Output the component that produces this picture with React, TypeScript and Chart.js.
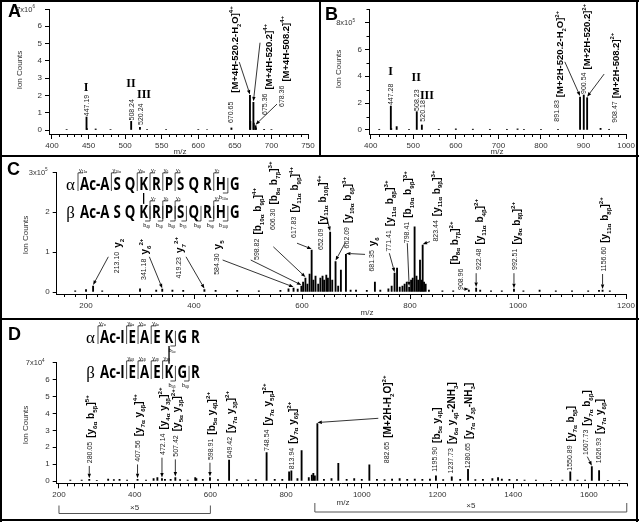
import React, { useEffect, useRef } from 'react';
import { Chart, registerables } from 'chart.js';
Chart.register(...registerables);

const SANS = '"Liberation Sans", Arial, sans-serif';
const SERIF = '"Liberation Serif", "Times New Roman", serif';
const SEQF = '"Open Sans", sans-serif';

// ---------- Panel A (x10^6 ion counts) ----------
const aMz = [420, 447.19, 447.7, 459.7, 480, 508.24, 520.24, 530, 556, 600, 612, 645.3, 670.65, 671.15, 675.36, 675.86, 678.36, 678.86, 690, 700];
const aInt = [0.03, 0.75, 0.08, 0.06, 0.03, 0.5, 0.15, 0.03, 0.03, 0.03, 0.03, 0.12, 2.0, 0.5, 1.6, 0.4, 0.25, 0.12, 0.04, 0.03];
const aXTicks = [400, 450, 500, 550, 600, 650, 700, 750];
const aYTicks = [0, 1, 2, 3, 4, 5, 6, 7];

// ---------- Panel B (x10^5 ion counts) ----------
const bMz = [420, 447.28, 448.3, 461, 490, 508.23, 520.18, 560, 600, 640, 680, 720, 745, 760, 800, 840, 891.83, 900.54, 908.47, 940, 960];
const bInt = [0.05, 1.78, 0.1, 0.25, 0.05, 1.36, 0.37, 0.05, 0.08, 0.06, 0.05, 0.05, 0.08, 0.05, 0.04, 0.05, 2.45, 2.6, 2.4, 0.12, 0.05];
const bXTicks = [400, 500, 600, 700, 800, 900, 1000];
const bYTicks = [0, 2, 4, 6, 8];

// ---------- Panel C (x10^5 ion counts) ----------
const cMz = [180, 200, 213.1, 230, 300, 330, 341.18, 360, 380, 419.23, 440, 480, 520, 560, 575, 584.3, 592, 598.82, 602, 606.3, 610, 614, 617.83, 621, 625, 630, 634, 638, 641, 645, 648, 652.09, 656, 662.09, 667, 672, 681.35, 690, 700, 720, 735, 745, 760, 766, 771.41, 776, 781, 786, 790, 794, 798.41, 802, 805, 808.5, 812, 815, 818.5, 821, 823.44, 826, 829, 835, 860, 880, 908.96, 922.48, 930, 950, 970, 992.51, 1010, 1040, 1070, 1100, 1130, 1150, 1156.6, 1170];
const cInt = [0.03, 0.06, 0.15, 0.03, 0.08, 0.05, 0.07, 0.05, 0.04, 0.06, 0.04, 0.04, 0.03, 0.04, 0.08, 0.1, 0.07, 0.15, 0.25, 0.35, 0.2, 0.45, 1.05, 0.3, 0.4, 0.2, 0.35, 0.4, 0.3, 0.42, 0.35, 1.5, 0.3, 0.76, 0.15, 0.55, 0.94, 0.05, 0.05, 0.04, 0.25, 0.05, 0.08, 0.15, 0.47, 0.6, 0.12, 0.15, 0.2, 0.25, 0.12, 0.3, 0.35, 1.63, 0.4, 0.3, 0.8, 0.3, 1.17, 0.25, 0.2, 0.05, 0.03, 0.03, 0.05, 0.1, 0.05, 0.03, 0.03, 0.07, 0.03, 0.05, 0.03, 0.03, 0.03, 0.04, 0.05, 0.03];
const cXTicks = [200, 400, 600, 800, 1000, 1200];
const cYTicks = [0, 1, 2, 3];

// ---------- Panel D (x10^4 ion counts) ----------
const dMz = [230, 260, 280.05, 300, 330, 345, 360, 380, 407.56, 430, 450, 460, 472.14, 480, 495, 507.42, 520, 540, 560, 563, 580, 598.91, 620, 649.42, 670, 700, 720, 748.54, 770, 790, 808, 813.94, 830, 841, 860, 868, 872, 876, 882.65, 900, 920, 938, 960, 980, 1000, 1020, 1040, 1060, 1080, 1100, 1120, 1140, 1160, 1180, 1195.9, 1215, 1237.73, 1260, 1280.65, 1300, 1320, 1345, 1360, 1370, 1390, 1410, 1430, 1460, 1500, 1530, 1550.89, 1570, 1590, 1607.73, 1626.93, 1650, 1680];
const dInt = [0.05, 0.05, 0.1, 0.04, 0.12, 0.08, 0.1, 0.05, 0.1, 0.05, 0.15, 0.2, 0.15, 0.1, 0.1, 0.2, 0.08, 0.05, 0.2, 0.15, 0.1, 0.2, 0.08, 1.24, 0.08, 0.05, 0.08, 1.68, 0.1, 0.1, 0.55, 0.6, 0.15, 1.8, 0.2, 0.35, 0.45, 0.3, 3.4, 0.1, 0.15, 1.05, 0.1, 0.15, 0.1, 0.95, 0.1, 0.08, 0.12, 0.15, 0.1, 0.12, 0.1, 0.12, 0.3, 0.08, 0.25, 0.1, 0.69, 0.08, 0.1, 0.15, 0.2, 0.12, 0.1, 0.08, 0.06, 0.05, 0.04, 0.05, 0.55, 0.05, 0.05, 0.85, 0.61, 0.04, 0.03];
const dXTicks = [200, 400, 600, 800, 1000, 1200, 1400, 1600];
const dYTicks = [0, 1, 2, 3, 4, 5, 6, 7];

type Ann = { mz: number; num: string; lab?: string; tx: number; ty: number; ax?: number; ay?: number; off?: number; gap?: number };

const aAnn: Ann[] = [
  { mz: 447.19, num: '447.19', tx: 447.19, ty: 0.8 },
  { mz: 508.24, num: '508.24', tx: 508.24, ty: 0.55 },
  { mz: 520.24, num: '520.24', tx: 520.4, ty: 0.29 },
  { mz: 670.65, num: '670.65', lab: '[M+4H-520.2-H_{2}O]^{4+}', tx: 644.7, ty: 0.4, ax: 656, ay: 3.93, gap: 9 },
  { mz: 675.36, num: '675.36', lab: '[M+4H-520.2]^{4+}', tx: 691.2, ty: 0.87, ax: 684.4, ay: 5.05 },
  { mz: 678.36, num: '678.36', lab: '[M+4H-508.2]^{4+}', tx: 714, ty: 1.33, ax: 707.6, ay: 1.5 },
];
const aRoman = [{ t: 'I', x: 446.5, y: 2.43 }, { t: 'II', x: 508, y: 2.66 }, { t: 'III', x: 525.8, y: 2.02 }];

const bAnn: Ann[] = [
  { mz: 447.28, num: '447.28', tx: 447.28, ty: 1.85 },
  { mz: 508.23, num: '508.23', tx: 508.23, ty: 1.42 },
  { mz: 520.18, num: '520.18', tx: 522.7, ty: 0.62 },
  { mz: 891.83, num: '891.83', lab: '[M+2H-520.2-H_{2}O]^{2+}', tx: 837.5, ty: 0.62, ax: 856, ay: 5.07 },
  { mz: 900.54, num: '900.54', lab: '[M+2H-520.2]^{2+}', tx: 900.54, ty: 2.68 },
  { mz: 908.47, num: '908.47', lab: '[M+2H-508.2]^{2+}', tx: 971.8, ty: 0.54, ax: 948.4, ay: 4.16, off: 1 },
];
const bRoman = [{ t: 'I', x: 446.9, y: 4.33 }, { t: 'II', x: 507, y: 3.84 }, { t: 'III', x: 532, y: 2.55 }];

const cAnn: Ann[] = [
  { mz: 213.1, num: '213.10', lab: 'y_{2}', tx: 256.8, ty: 0.47, ax: 241.3, ay: 0.88 },
  { mz: 341.18, num: '341.18', lab: 'y_{6}^{2+}', tx: 306, ty: 0.3, ax: 317.3, ay: 0.88 },
  { mz: 419.23, num: '419.23', lab: 'y_{7}^{2+}', tx: 371, ty: 0.34, ax: 385.2, ay: 0.88 },
  { mz: 584.3, num: '584.30', lab: 'y_{5}', tx: 442, ty: 0.43, ax: 453, ay: 0.8 },
  { mz: 598.82, num: '598.82', lab: '[b_{10α} b_{9β}]^{4+}', tx: 516, ty: 0.8, ax: 505, ay: 0.8 },
  { mz: 606.3, num: '606.30', lab: '[b_{8α} b_{7β}]^{3+}', tx: 545.7, ty: 1.55, ax: 546.9, ay: 1.13 },
  { mz: 617.83, num: '617.83', lab: '[y_{11α} b_{9β}]^{4+}', tx: 584, ty: 1.35, ax: 590.7, ay: 1.22 },
  { mz: 652.09, num: '652.09', lab: '[y_{11α} b_{10β}]^{4+}', tx: 635, ty: 1.05, ax: 645.7, ay: 1.88 },
  { mz: 662.09, num: '662.09', lab: '[y_{10α} b_{6β}]^{3+}', tx: 682.6, ty: 1.09, ax: 679.6, ay: 1.22 },
  { mz: 681.35, num: '681.35', lab: 'y_{6}', tx: 729, ty: 0.51, ax: 716.7, ay: 0.94 },
  { mz: 771.41, num: '771.41', lab: '[y_{11α} b_{8β}]^{3+}', tx: 759.8, ty: 1.01, ax: 761.7, ay: 0.97 },
  { mz: 798.41, num: '798.41', lab: '[b_{10α} b_{9β}]^{3+}', tx: 793.9, ty: 1.22, ax: 795, ay: 1.22 },
  { mz: 823.44, num: '823.44', lab: '[y_{11α} b_{9β}]^{3+}', tx: 846.3, ty: 1.26, ax: 837, ay: 1.26 },
  { mz: 908.96, num: '908.96', lab: '[b_{8α} b_{7β}]^{2+}', tx: 892.6, ty: 0.05, ax: 898.7, ay: 0.07, off: -6 },
  { mz: 922.48, num: '922.48', lab: '[y_{11α} b_{4β}]^{2+}', tx: 926.5, ty: 0.55, ax: 922.48, ay: 0.47 },
  { mz: 992.51, num: '992.51', lab: '[y_{8α} b_{8β}]^{2+}', tx: 994.4, ty: 0.55, ax: 992.51, ay: 0.47 },
  { mz: 1156.6, num: '1156.60', lab: '[y_{11α} b_{8β}]^{2+}', tx: 1158, ty: 0.51, ax: 1156.6, ay: 0.45 },
];

const dAnn: Ann[] = [
  { mz: 280.05, num: '280.05', lab: '[y_{6α} b_{5β}]^{5+}', tx: 280, ty: 1.05, ax: 280.05, ay: 0.89 },
  { mz: 407.56, num: '407.56', lab: '[y_{7α} y_{6β}]^{4+}', tx: 407.8, ty: 1.14, ax: 407.56, ay: 0.98 },
  { mz: 472.14, num: '472.14', lab: '[y_{4α} y_{3β}]^{2+}', tx: 473, ty: 1.54, ax: 472.14, ay: 1.38 },
  { mz: 507.42, num: '507.42', lab: '[y_{5α} y_{3β}]^{2+}', tx: 508.3, ty: 1.44, ax: 507.42, ay: 1.28 },
  { mz: 598.91, num: '598.91', lab: '[b_{5α} y_{4β}]^{2+}', tx: 599, ty: 1.24, ax: 598.91, ay: 1.08 },
  { mz: 649.42, num: '649.42', lab: '[y_{7α} y_{3β}]^{2+}', tx: 650, ty: 1.34 },
  { mz: 748.54, num: '748.54', lab: '[y_{7α} y_{5β}]^{2+}', tx: 748.7, ty: 1.78 },
  { mz: 813.94, num: '813.94', lab: '[y_{7α} y_{6β}]^{2+}', tx: 813, ty: 0.7 },
  { mz: 882.65, num: '882.65', lab: '[M+2H-H_{2}O]^{2+}', tx: 1065.6, ty: 1.05, ax: 1043.6, ay: 3.71 },
  { mz: 1195.9, num: '1195.90', lab: '[b_{5α} y_{4β}]', tx: 1193.4, ty: 0.55 },
  { mz: 1237.73, num: '1237.73', lab: '[y_{6α} y_{4β}-2NH_{3}]', tx: 1234.8, ty: 0.45 },
  { mz: 1280.65, num: '1280.65', lab: '[y_{7α} y_{3β}-NH_{3}]', tx: 1278.8, ty: 0.75 },
  { mz: 1550.89, num: '1550.89', lab: '[y_{7α} b_{5β}]', tx: 1548, ty: 0.61 },
  { mz: 1607.73, num: '1607.73', lab: '[y_{7α} b_{6β}]', tx: 1591.5, ty: 1.54, ax: 1595.8, ay: 1.44 },
  { mz: 1626.93, num: '1626.93', lab: '[y_{7α} y_{6β}]', tx: 1624.9, ty: 1.05 },
];
const dRanges = [{ from: 200, to: 600, t: '×5' }, { from: 876, to: 1700, t: '×5' }];

const cSeq = {
  res: ['Ac-A', 'S', 'Q', 'K', 'R', 'P', 'S', 'Q', 'R', 'H', 'G'],
  alphaY: [[0, 'y_{11α}'], [1, 'y_{10α}'], [3, 'y_{8α}'], [4, 'y_{7}'], [5, 'y_{6}'], [6, 'y_{5}'], [9, 'y_{2}']],
  alphaB: [[9, 'b_{10α}']],
  betaY: [[4, 'y_{7}'], [5, 'y_{6}'], [6, 'y_{5}'], [9, 'y_{2}']],
  betaB: [[3, 'b_{4β}'], [4, 'b_{5β}'], [5, 'b_{6β}'], [6, 'b_{7β}'], [7, 'b_{8β}'], [8, 'b_{9β}'], [9, 'b_{10β}']],
  link: 3,
};
const dSeq = {
  res: ['Ac-I', 'E', 'A', 'E', 'K', 'G', 'R'],
  alphaY: [[0, 'y_{7α}'], [1, 'y_{6α}'], [2, 'y_{5α}'], [3, 'y_{4α}']],
  alphaB: [[4, 'b_{5α}']],
  betaY: [[1, 'y_{6β}'], [2, 'y_{5β}'], [3, 'y_{4β}'], [4, 'y_{3β}']],
  betaB: [[4, 'b_{5β}'], [5, 'b_{6β}']],
  link: 4,
};

// ---------- drawing helpers ----------
function parseRich(s: string) {
  const out: { t: string; k: number }[] = [];
  let cur = '';
  let i = 0;
  while (i < s.length) {
    const c = s[i];
    if ((c === '_' || c === '^') && s[i + 1] === '{') {
      if (cur) { out.push({ t: cur, k: 0 }); cur = ''; }
      const j = s.indexOf('}', i);
      out.push({ t: s.slice(i + 2, j), k: c === '_' ? 1 : 2 });
      i = j + 1;
    } else { cur += c; i++; }
  }
  if (cur) out.push({ t: cur, k: 0 });
  return out;
}
function rich(ctx: CanvasRenderingContext2D, s: string, x: number, y: number, size: number, weight: string, family: string, draw = true) {
  let cx = x;
  for (const seg of parseRich(s)) {
    const fs = seg.k ? size * 0.62 : size;
    ctx.font = `${weight} ${fs}px ${family}`;
    const dy = seg.k === 1 ? size * 0.28 : seg.k === 2 ? -size * 0.48 : 0;
    if (draw) ctx.fillText(seg.t, cx, y + dy);
    cx += ctx.measureText(seg.t).width;
  }
  return cx - x;
}
function arrow(ctx: CanvasRenderingContext2D, x1: number, y1: number, x2: number, y2: number) {
  ctx.save();
  ctx.strokeStyle = '#000'; ctx.fillStyle = '#000'; ctx.lineWidth = 0.8;
  const a = Math.atan2(y2 - y1, x2 - x1);
  const L = 4.5, W = 1.7;
  const bx = x2 - L * Math.cos(a), by = y2 - L * Math.sin(a);
  ctx.beginPath(); ctx.moveTo(x1, y1); ctx.lineTo(bx, by); ctx.stroke();
  ctx.beginPath(); ctx.moveTo(x2, y2);
  ctx.lineTo(bx - W * Math.sin(a), by + W * Math.cos(a));
  ctx.lineTo(bx + W * Math.sin(a), by - W * Math.cos(a));
  ctx.closePath(); ctx.fill();
  ctx.restore();
}
function drawSeq(ctx: CanvasRenderingContext2D, seq: any, x0: number, y1: number, y2: number) {
  const size = 17, sx = 0.78, gap = 4, capH = size * 0.714;
  ctx.save();
  ctx.font = `bold ${size}px ${SEQF}`;
  const lefts: number[] = [], rights: number[] = [];
  let cx = x0;
  for (const r of seq.res) { lefts.push(cx); const w = ctx.measureText(r).width * sx; rights.push(cx + w); cx += w + gap; }
  const rows = [{ y: y1, g: 'α', Y: seq.alphaY, B: seq.alphaB }, { y: y2, g: 'β', Y: seq.betaY, B: seq.betaB }];
  ctx.fillStyle = '#000'; ctx.strokeStyle = '#000'; ctx.lineWidth = 0.7;
  for (const row of rows) {
    ctx.font = `${size}px ${SERIF}`; ctx.textAlign = 'right'; ctx.textBaseline = 'alphabetic';
    ctx.fillText(row.g, x0 - 5, row.y);
    ctx.textAlign = 'left';
    seq.res.forEach((r: string, i: number) => {
      ctx.save(); ctx.translate(lefts[i], row.y); ctx.scale(sx, 1);
      ctx.font = `bold ${size}px ${SEQF}`; ctx.fillText(r, 0, 0); ctx.restore();
    });
    for (const [i, l] of row.Y) {
      const xl = lefts[i] - gap / 2, top = row.y - capH - 5;
      ctx.beginPath(); ctx.moveTo(xl, row.y + 1); ctx.lineTo(xl, top); ctx.lineTo(xl + 5, top); ctx.stroke();
      rich(ctx, l, xl + 1, top - 1, 5.5, 'normal', SANS);
    }
    for (const [i, l] of row.B) {
      const xr = rights[i] + gap / 2, bot = row.y + 3;
      ctx.beginPath(); ctx.moveTo(xr, row.y - capH); ctx.lineTo(xr, bot); ctx.lineTo(xr - 5, bot); ctx.stroke();
      const w = rich(ctx, l, 0, 0, 5.5, 'normal', SANS, false);
      rich(ctx, l, xr - w, bot + 5.5, 5.5, 'normal', SANS);
    }
  }
  const kx = (lefts[seq.link] + rights[seq.link]) / 2;
  ctx.lineWidth = 1.3;
  ctx.beginPath(); ctx.moveTo(kx, y1 + 3); ctx.lineTo(kx, y2 - capH - 2); ctx.stroke();
  ctx.restore();
}

type Spec = any;

const specs: Spec[] = [
  {
    left: 0, top: 0, w: 319, h: 156, yW: 49, xH: 22, padR: 11, padT: 9,
    xMin: 395.9, xMax: 750, xTicks: aXTicks, xMinor: 10, yMin: -0.231, yMax: 7, yTicks: aYTicks, yMinor: 0,
    yTop: 7, yExp: '7x10^{6}', expGap: 14, mz: aMz, ints: aInt, anns: aAnn, romans: aRoman,
    letter: 'A', letterXY: [8, 17], mzXY: [180, 152], ionXY: [20, 70], labSize: 9.5, off: 3.5, gap: 4,
  },
  {
    left: 320, top: 0, w: 317, h: 156, yW: 49, xH: 22, padR: 10, padT: 9,
    xMin: 396, xMax: 1000, xTicks: bXTicks, xMinor: 20, yMin: -0.3, yMax: 9, yTicks: bYTicks, yMinor: 1,
    yTop: 8, yExp: '8x10^{5}', expGap: 14, mz: bMz, ints: bInt, anns: bAnn, romans: bRoman,
    letter: 'B', letterXY: [5, 20], mzXY: [177, 152], ionXY: [19, 69], labSize: 9.5, off: 3, gap: 3,
  },
  {
    left: 0, top: 157, w: 639, h: 161, yW: 56.7, xH: 24, padR: 13, padT: 15,
    xMin: 145.7, xMax: 1200, xTicks: cXTicks, xMinor: 20, yMin: -0.05, yMax: 3, yTicks: cYTicks, yMinor: 0,
    yTop: 3, yExp: '3x10^{5}', expGap: 9, mz: cMz, ints: cInt, anns: cAnn, romans: [],
    letter: 'C', letterXY: [7, 18], mzXY: [367, 156], ionXY: [26, 78], labSize: 10, off: 1, gap: 4,
    seq: cSeq, seqXY: [80, 33, 61],
  },
  {
    left: 0, top: 318, w: 639, h: 204, yW: 56.7, xH: 38.7, padR: 12.25, padT: 44.7,
    xMin: 194, xMax: 1700, xTicks: dXTicks, xMinor: 20, yMin: -0.136, yMax: 7, yTicks: dYTicks, yMinor: 0,
    yTop: 7, yExp: '7x10^{4}', expGap: 12, mz: dMz, ints: dInt, anns: dAnn, romans: [],
    letter: 'D', letterXY: [8, 22], mzXY: [343, 185], ionXY: [26, 107], labSize: 10, off: 1, gap: 4,
    seq: dSeq, seqXY: [100, 25, 60], ranges: dRanges,
  },
];

function isMajor(v: number, ticks: number[]) {
  return ticks.some((t) => Math.abs(t - v) < 1e-6);
}

function makePlugin(s: Spec) {
  return {
    id: 'spectrumDeco',
    afterDraw(chart: any) {
      const ctx: CanvasRenderingContext2D = chart.ctx;
      const xs = chart.scales.x, ys = chart.scales.y;
      const area = chart.chartArea;
      const peak = (m: number) => s.ints[s.mz.indexOf(m)] ?? 0;
      ctx.save();
      ctx.strokeStyle = '#000'; ctx.lineWidth = 1;
      // minor x ticks
      for (let v = Math.ceil(s.xMin / s.xMinor) * s.xMinor; v <= s.xMax + 1e-6; v += s.xMinor) {
        if (isMajor(v, s.xTicks)) continue;
        const px = Math.round(xs.getPixelForValue(v)) + 0.5;
        ctx.beginPath(); ctx.moveTo(px, area.bottom); ctx.lineTo(px, area.bottom + 3); ctx.stroke();
      }
      if (s.yMinor) {
        for (let v = 0; v <= s.yMax + 1e-6; v += s.yMinor) {
          if (isMajor(v, s.yTicks)) continue;
          const py = Math.round(ys.getPixelForValue(v)) + 0.5;
          ctx.beginPath(); ctx.moveTo(area.left, py); ctx.lineTo(area.left - 2.5, py); ctx.stroke();
        }
      }
      // top y label with exponent
      ctx.fillStyle = '#333'; ctx.textBaseline = 'alphabetic'; ctx.textAlign = 'left';
      const ew = rich(ctx, s.yExp, 0, 0, 7.5, 'normal', SANS, false);
      rich(ctx, s.yExp, area.left - s.expGap - ew, ys.getPixelForValue(s.yTop) + 2.7, 7.5, 'normal', SANS);
      // axis titles
      ctx.font = `8px ${SANS}`; ctx.textAlign = 'center'; ctx.textBaseline = 'middle'; ctx.fillStyle = '#333';
      ctx.fillText('m/z', s.mzXY[0], s.mzXY[1]);
      ctx.save(); ctx.translate(s.ionXY[0], s.ionXY[1]); ctx.rotate(-Math.PI / 2);
      ctx.fillText('Ion Counts', 0, 0); ctx.restore();
      // panel letter
      ctx.font = `bold 18px ${SANS}`; ctx.fillStyle = '#000'; ctx.textAlign = 'left'; ctx.textBaseline = 'alphabetic';
      ctx.fillText(s.letter, s.letterXY[0], s.letterXY[1]);
      // roman numerals
      ctx.font = `bold 12px ${SERIF}`; ctx.textAlign = 'center'; ctx.textBaseline = 'middle';
      for (const r of s.romans) ctx.fillText(r.t, xs.getPixelForValue(r.x), ys.getPixelForValue(r.y));
      // annotations
      for (const a of s.anns as Ann[]) {
        const X = xs.getPixelForValue(a.tx), Y = ys.getPixelForValue(a.ty);
        ctx.save(); ctx.translate(X, Y); ctx.rotate(-Math.PI / 2);
        ctx.textAlign = 'left'; ctx.textBaseline = 'alphabetic'; ctx.fillStyle = '#222';
        ctx.font = `7px ${SANS}`;
        ctx.fillText(a.num, 0, 2.5);
        const w = ctx.measureText(a.num).width;
        if (a.lab) {
          ctx.fillStyle = '#000';
          rich(ctx, a.lab, w + (a.gap ?? s.gap), (a.off ?? s.off) + s.labSize * 0.36, s.labSize, 'bold', SANS);
        }
        ctx.restore();
        if (a.ax !== undefined) {
          arrow(ctx, xs.getPixelForValue(a.ax), ys.getPixelForValue(a.ay as number), xs.getPixelForValue(a.mz), ys.getPixelForValue(peak(a.mz)) - 1);
        }
      }
      // sequence inset
      if (s.seq) drawSeq(ctx, s.seq, s.seqXY[0], s.seqXY[1], s.seqXY[2]);
      // magnification ranges
      if (s.ranges) {
        ctx.strokeStyle = '#555'; ctx.lineWidth = 1; ctx.fillStyle = '#333';
        ctx.font = `8px ${SANS}`; ctx.textAlign = 'center'; ctx.textBaseline = 'middle';
        s.ranges.forEach((r: any, i: number) => {
          const x1 = xs.getPixelForValue(r.from), x2 = xs.getPixelForValue(r.to);
          const y = i === 0 ? 195.5 : 194, h = i === 0 ? 8 : 9;
          ctx.beginPath(); ctx.moveTo(x1, y - h); ctx.lineTo(x1, y); ctx.lineTo(x2, y); ctx.lineTo(x2, y - h); ctx.stroke();
          ctx.fillText(r.t, (x1 + x2) / 2, y - 6);
        });
      }
      ctx.restore();
    },
  };
}

function Panel({ s }: { s: Spec }) {
  const ref = useRef<HTMLCanvasElement>(null);
  useEffect(() => {
    const chart = new Chart(ref.current as HTMLCanvasElement, {
      type: 'bar',
      data: {
        datasets: [{
          data: s.mz.map((m: number, i: number) => ({ x: m, y: s.ints[i] })),
          backgroundColor: '#000', borderWidth: 0, barThickness: 1.2, grouped: false,
        }],
      },
      options: {
        responsive: false, animation: false, devicePixelRatio: 1,
        layout: { padding: { left: 0, right: s.padR, top: s.padT, bottom: 0 } },
        plugins: { legend: { display: false }, tooltip: { enabled: false }, title: { display: false } },
        scales: {
          x: {
            type: 'linear', min: s.xMin, max: s.xMax, offset: false,
            grid: { display: true, offset: false, drawOnChartArea: false, drawTicks: true, tickLength: 5, color: '#000', lineWidth: 1 },
            border: { display: true, color: '#000', width: 1 },
            ticks: { autoSkip: false, maxRotation: 0, minRotation: 0, padding: 2, color: '#333', font: { family: SANS, size: 8 }, callback: (v: any) => String(v) },
            afterBuildTicks: (sc: any) => { sc.ticks = s.xTicks.map((v: number) => ({ value: v })); },
            afterFit: (sc: any) => { sc.height = s.xH; },
          },
          y: {
            type: 'linear', min: s.yMin, max: s.yMax,
            grid: { display: true, drawOnChartArea: false, drawTicks: true, tickLength: 4, color: '#000', lineWidth: 1 },
            border: { display: true, color: '#000', width: 1 },
            ticks: { autoSkip: false, padding: 3, color: '#333', font: { family: SANS, size: 8 }, callback: (v: any) => (Math.abs(v - s.yTop) < 1e-6 ? '' : String(Math.round(v))) },
            afterBuildTicks: (sc: any) => { sc.ticks = s.yTicks.map((v: number) => ({ value: v })); },
            afterFit: (sc: any) => { sc.width = s.yW; },
          },
        },
      } as any,
      plugins: [makePlugin(s)],
    });
    return () => chart.destroy();
  }, []);
  return <canvas ref={ref} width={s.w} height={s.h} style={{ position: 'absolute', left: s.left, top: s.top, width: s.w, height: s.h }} />;
}

const lines = [
  [0, 0, 639, 2], [0, 0, 2, 522], [636, 0, 2, 522], [0, 519, 639, 2],
  [0, 155, 639, 2], [0, 317.5, 639, 2], [318.5, 0, 2.5, 156],
];

export default function App() {
  return (
    <div style={{ position: 'fixed', left: 0, top: 0, width: 639, height: 522, background: '#fff', overflow: 'hidden' }}>
      {specs.map((s, i) => <Panel key={i} s={s} />)}
      {lines.map((l, i) => (
        <div key={'l' + i} style={{ position: 'absolute', left: l[0], top: l[1], width: l[2], height: l[3], background: '#000' }} />
      ))}
    </div>
  );
}
